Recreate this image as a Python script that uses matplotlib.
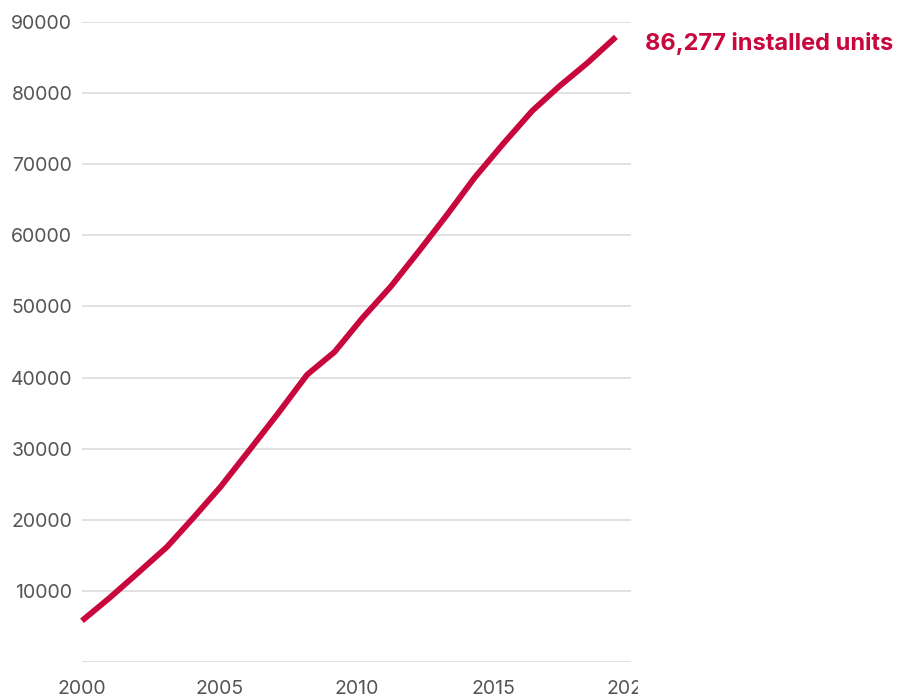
import matplotlib
matplotlib.use("Agg")
import matplotlib.pyplot as plt
from matplotlib.transforms import Bbox, TransformedBbox

# Installed units over time
years = [2000, 2001.0, 2002.0, 2003.1, 2004.05, 2005.05, 2006.1, 2007.15, 2008.2,
         2009.2, 2010.2, 2011.25, 2012.3, 2013.3, 2014.3, 2015.35, 2016.4,
         2017.4, 2018.4, 2019.45]
units = [5800, 9000, 12400, 16200, 20250, 24650, 29800, 35000, 40400,
         43600, 48300, 52800, 57900, 62900, 68100, 72900, 77500,
         81000, 84200, 87900]

x_ticks = [2000, 2005, 2010, 2015, 2020]
y_ticks = [0, 10000, 20000, 30000, 40000, 50000, 60000, 70000, 80000, 90000]
y_labels = [""] + [str(v) for v in y_ticks[1:]]
label = "86,277 installed units"

red = "#c8073d"
grey = "#555555"
font = ["Inter", "DejaVu Sans"]

fig = plt.figure(figsize=(9.01, 6.99), dpi=100)
ax = fig.add_axes([82 / 901, 1 - 662 / 699, (631 - 82) / 901, (662 - 22) / 699])

ax.plot(years, units, color=red, lw=4.2, solid_capstyle="butt", solid_joinstyle="round",
        clip_on=False, zorder=3)

ax.set_xlim(2000, 2020)
ax.set_ylim(0, 90000)
ax.set_xticks(x_ticks)
ax.set_xticklabels([str(v) for v in x_ticks])
ax.set_yticks(y_ticks)
ax.set_yticklabels(y_labels)

ax.grid(axis="y", color="#dcdcdc", lw=1.2)
ax.grid(axis="x", visible=False)
ax.set_axisbelow(True)
for s in ax.spines.values():
    s.set_visible(False)
ax.tick_params(axis="both", length=0, labelcolor=grey, labelsize=14)
ax.tick_params(axis="x", pad=13)
ax.tick_params(axis="y", pad=7)
for t in ax.get_xticklabels() + ax.get_yticklabels():
    t.set_fontfamily(font)

ax.annotate(label, xy=(years[-1], units[-1]), xytext=(21, -4.5),
            textcoords="offset points", ha="left", va="center",
            color=red, fontsize=17, fontweight="bold",
            fontfamily=font, annotation_clip=False)

# the last year label is cut off in the original
fig.canvas.draw()
last = ax.xaxis.get_major_ticks()[-1].label1
last.set_clip_box(TransformedBbox(Bbox([[0, 0], [638 / 901, 1]]), fig.transFigure))
last.set_clip_on(True)

fig.savefig("out.png", dpi=100, facecolor="white")
